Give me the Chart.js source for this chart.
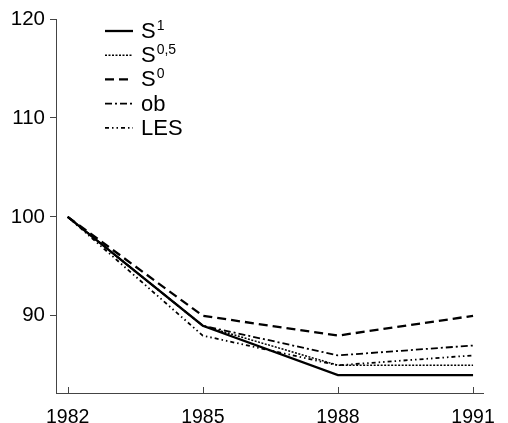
<!DOCTYPE html>
<html><head><meta charset="utf-8">
<script src="https://cdn.jsdelivr.net/npm/chart.js@4/dist/chart.umd.min.js"></script>
<style>html,body{margin:0;padding:0;background:#fff;}#wrap{width:508px;height:423px;}</style>
</head><body><div id="wrap"><canvas id="c" width="508" height="423"></canvas></div>
<script>
const years = [1982, 1985, 1988, 1991];
const xTicks = [1982, 1985, 1988, 1991];
const yTicks = [90, 100, 110, 120];
const seriesNames = ['S', 'S', 'S', 'ob', 'LES'];
const seriesSup = ['1', '0,5', '0', '', ''];
const s1 = [100, 89, 84, 84];
const s05 = [100, 89, 85, 85];
const s0 = [100, 90, 88, 90];
const ob = [100, 89, 86, 87];
const les = [100, 88, 85, 86];

const FONT = '"Liberation Sans", Arial, Helvetica, sans-serif';
const styles = [
  {w: 2.3, dash: []},
  {w: 1.5, dash: [2, 1.5]},
  {w: 2.3, dash: [9, 5]},
  {w: 1.8, dash: [7, 3, 2, 3]},
  {w: 1.8, dash: [4, 3, 1.5, 3, 1.5, 3]}
];
const seriesValues = [s1, s05, s0, ob, les];

const datasets = seriesValues.map((vals, i) => ({
  label: seriesNames[i] + seriesSup[i],
  data: years.map((y, k) => ({x: y, y: vals[k]})),
  borderColor: '#000',
  backgroundColor: '#000',
  borderWidth: styles[i].w,
  borderDash: styles[i].dash,
  pointRadius: 0,
  tension: 0,
  fill: false
}));

const innerTicks = {
  id: 'innerTicks',
  afterDraw(chart) {
    const ctx = chart.ctx, xs = chart.scales.x, bottom = chart.chartArea.bottom;
    ctx.save();
    ctx.strokeStyle = '#444';
    ctx.lineWidth = 1;
    xTicks.forEach(v => {
      const px = Math.round(xs.getPixelForValue(v)) + 0.5;
      ctx.beginPath();
      ctx.moveTo(px, bottom);
      ctx.lineTo(px, bottom - 6);
      ctx.stroke();
    });
    ctx.restore();
  }
};

const legendPlugin = {
  id: 'customLegend',
  afterDraw(chart) {
    const ctx = chart.ctx;
    const x0 = 105, x1 = 133, tx = 141, y0 = 31, dy = 24.2;
    ctx.save();
    chart.data.datasets.forEach((ds, i) => {
      const y = y0 + i * dy;
      ctx.strokeStyle = ds.borderColor;
      ctx.lineWidth = ds.borderWidth;
      ctx.setLineDash(ds.borderDash);
      ctx.beginPath();
      ctx.moveTo(x0, y);
      ctx.lineTo(x1, y);
      ctx.stroke();
      ctx.setLineDash([]);
      ctx.fillStyle = '#000';
      ctx.textBaseline = 'middle';
      ctx.textAlign = 'left';
      ctx.font = '22px ' + FONT;
      ctx.fillText(seriesNames[i], tx, y + 1);
      const w = ctx.measureText(seriesNames[i]).width;
      if (seriesSup[i]) {
        ctx.font = '14px ' + FONT;
        ctx.fillText(seriesSup[i], tx + w + 1, y - 5);
      }
    });
    ctx.restore();
  }
};

new Chart(document.getElementById('c'), {
  type: 'line',
  data: {datasets},
  plugins: [innerTicks, legendPlugin],
  options: {
    responsive: false,
    animation: false,
    devicePixelRatio: 1,
    layout: {padding: {top: 19, right: 10, left: 0, bottom: 0}},
    plugins: {legend: {display: false}, tooltip: {enabled: false}},
    scales: {
      x: {
        type: 'linear',
        min: 1981.74, max: 1991.24,
        afterBuildTicks: s => { s.ticks = xTicks.map(v => ({value: v})); },
        afterFit: s => { s.height = 30; },
        grid: {display: false, drawTicks: false},
        border: {display: true, color: '#444', width: 1},
        ticks: {color: '#000', font: {family: FONT, size: 19.5}, padding: 13, maxRotation: 0, autoSkip: false,
          callback: v => String(v)}
      },
      y: {
        min: 82.2, max: 120,
        afterBuildTicks: s => { s.ticks = yTicks.map(v => ({value: v})); },
        afterFit: s => { s.width = 56; },
        grid: {display: true, drawOnChartArea: false, drawTicks: true, tickLength: 6, color: '#444', lineWidth: 1},
        border: {display: true, color: '#444', width: 1},
        ticks: {color: '#000', font: {family: FONT, size: 20.5}, padding: 5, callback: v => String(v)}
      }
    }
  }
});
</script></body></html>
